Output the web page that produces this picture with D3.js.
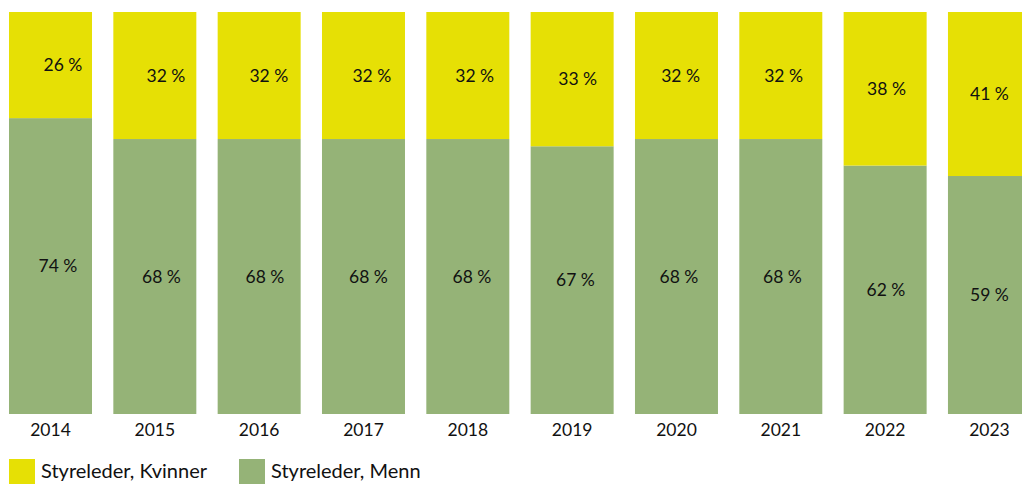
<!DOCTYPE html>
<html>
<head>
<meta charset="utf-8">
<script src="https://cdn.jsdelivr.net/npm/d3@7"></script>
<style>
  body { margin: 0; background: #fff; }
  text { font-family: Lato, "Open Sans", sans-serif; fill: #111; }
</style>
</head>
<body>
<div id="chart-area"></div>
<script>
// data
var years = ["2014", "2015", "2016", "2017", "2018", "2019", "2020", "2021", "2022", "2023"];
var kvinner = [26.4, 31.6, 31.6, 31.6, 31.6, 33.4, 31.6, 31.6, 38.2, 40.8];
var menn = [73.6, 68.4, 68.4, 68.4, 68.4, 66.6, 68.4, 68.4, 61.8, 59.2];
var seriesNames = ["Styreleder, Kvinner", "Styreleder, Menn"];

var colors = { kvinner: "#e6e005", menn: "#95b377" };

var width = 1022, height = 484;

var svg = d3.select("#chart-area")
  .append("svg")
  .attr("width", width)
  .attr("height", height);

// x scale - last bar runs past the right edge, like the original
var step = 104.33;
var x = d3.scaleBand()
  .domain(years)
  .range([-1.67, -1.67 + step * years.length])
  .paddingInner(0.2045)
  .paddingOuter(0.1023);

var y = d3.scaleLinear()
  .domain([0, 100])
  .range([414, 12]);

var rows = years.map(function(d, i) {
  return { year: d, i: i, menn: menn[i], kvinner: kvinner[i] };
});

var stack = d3.stack().keys(["menn", "kvinner"]);
var layers = stack(rows);

var groups = svg.selectAll("g.layer")
  .data(layers)
  .enter()
  .append("g")
  .attr("class", "layer")
  .attr("fill", function(d) { return colors[d.key]; });

groups.selectAll("rect")
  .data(function(d) { return d; })
  .enter()
  .append("rect")
  .attr("x", function(d) { return x(d.data.year); })
  .attr("width", x.bandwidth())
  .attr("y", function(d) { return y(d[1]); })
  .attr("height", function(d) { return y(d[0]) - y(d[1]); });

// data labels (the original drifts them a bit to the right on the left side)
var drift = { menn: 7.5, kvinner: 12.5 };
var n = years.length;

layers.forEach(function(layer) {
  svg.append("g")
    .selectAll("text")
    .data(layer)
    .enter()
    .append("text")
    .attr("x", function(d) {
      return x(d.data.year) + x.bandwidth() / 2 + drift[layer.key] * (n - 1 - d.data.i) / (n - 1);
    })
    .attr("y", function(d) { return (y(d[0]) + y(d[1])) / 2; })
    .attr("dy", "0.35em")
    .attr("text-anchor", "middle")
    .attr("font-size", "17.5px")
    .text(function(d) { return Math.round(d.data[layer.key]) + " %"; });
});

// x axis labels
var xAxis = svg.append("g")
  .attr("transform", "translate(0,414)")
  .call(d3.axisBottom(x).tickSize(0).tickPadding(10));
xAxis.select(".domain").remove();
xAxis.selectAll("text")
  .attr("font-size", "17.5px")
  .style("font-family", "Lato, 'Open Sans', sans-serif")
  .attr("fill", "#111");

// legend
var legend = svg.append("g").attr("transform", "translate(9,459)");
var legendX = [0, 230];
var legendColors = [colors.kvinner, colors.menn];

seriesNames.forEach(function(name, i) {
  var item = legend.append("g").attr("transform", "translate(" + legendX[i] + ",0)");
  item.append("rect")
    .attr("width", 26)
    .attr("height", 26)
    .attr("fill", legendColors[i]);
  item.append("text")
    .attr("x", 32)
    .attr("y", 12)
    .attr("dy", "0.35em")
    .attr("font-size", "20px")
    .text(name);
});
</script>
</body>
</html>
